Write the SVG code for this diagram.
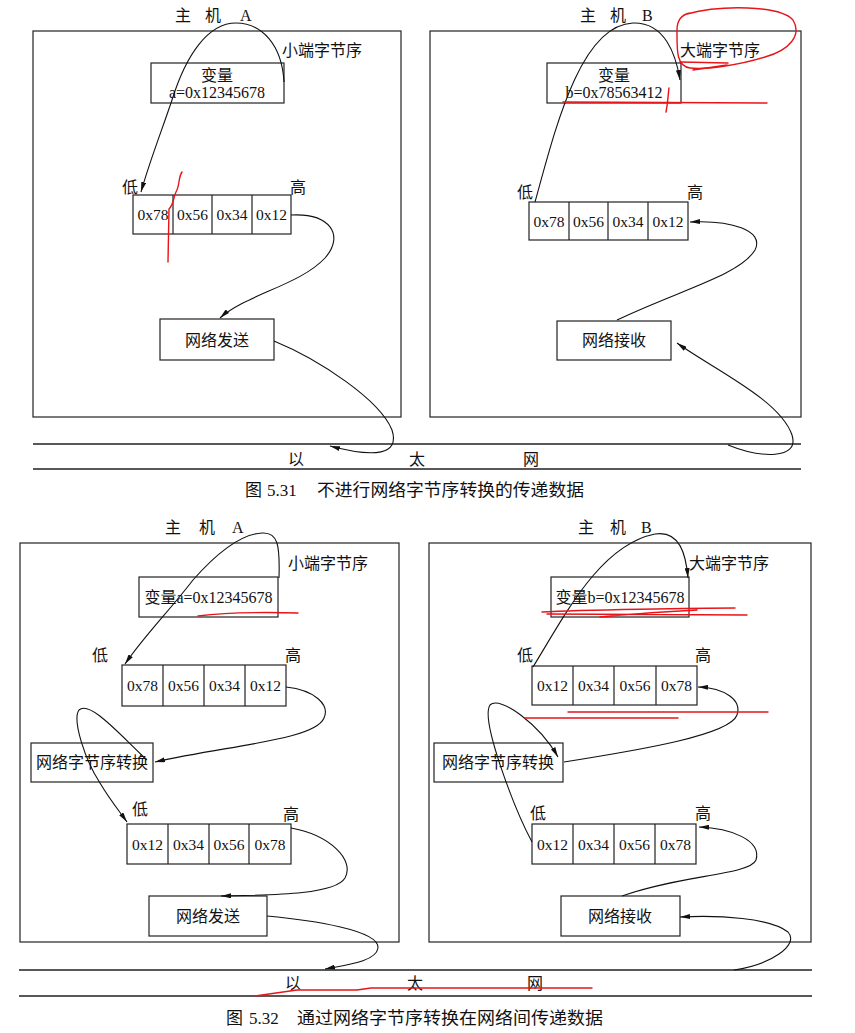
<svg xmlns="http://www.w3.org/2000/svg" width="855" height="1033" viewBox="0 0 855 1033">
<style>
text{font-family:"Liberation Serif","Noto Sans CJK SC",serif;font-size:16px;fill:#111}
.c{text-anchor:middle}
.cell{font-size:15.5px;text-anchor:middle}
.cap{font-size:17px}
.frame,.box{fill:none;stroke:#222;stroke-width:1.2}
.net{stroke:#222;stroke-width:1.4}
.arr{fill:none;stroke:#111;stroke-width:1.1;marker-end:url(#ah)}
.red{fill:none;stroke:#e8141a;stroke-width:1.4;stroke-linecap:round}
</style>
<defs>
<marker id="ah" viewBox="0 0 10 5" markerWidth="10" markerHeight="5" refX="10" refY="2.5" orient="auto" markerUnits="userSpaceOnUse">
<path d="M0,0 L10,2.5 L0,5 z" fill="#111"/>
</marker>
</defs>
<rect width="855" height="1033" fill="#fff"/>

<!-- Figure 5.31 -->
<g id="hostA1">
<rect class="frame" x="33" y="31" width="368" height="386"/>
<text y="21"><tspan x="175">主</tspan><tspan x="205">机</tspan><tspan x="240">A</tspan></text>
<text x="282" y="56">小端字节序</text>
</g>
<g id="varA1">
<rect class="box" x="151" y="63" width="133" height="40"/>
<text class="c" x="217" y="81">变量</text>
<text class="c" x="217" y="98">a=0x12345678</text>
</g>
<g id="arrA1">
<text x="122" y="193">低</text><text x="290" y="193">高</text>
<rect class="box" x="133" y="195" width="158" height="39"/>
<path class="box" d="M173,195V234M212,195V234M252,195V234"/>
<text class="cell" x="153" y="220">0x78</text><text class="cell" x="192.5" y="220">0x56</text><text class="cell" x="232" y="220">0x34</text><text class="cell" x="271.5" y="220">0x12</text>
</g>
<g id="sendA1">
<rect class="box" x="160" y="319" width="114" height="41"/>
<text class="c" x="217" y="346">网络发送</text>
</g>
<g id="hostB1">
<rect class="frame" x="430" y="31" width="371" height="386"/>
<text y="21"><tspan x="580">主</tspan><tspan x="610">机</tspan><tspan x="642">B</tspan></text>
<text x="680" y="56">大端字节序</text>
</g>
<g id="varB1">
<rect class="box" x="547" y="63" width="134" height="40"/>
<text class="c" x="614" y="81">变量</text>
<text class="c" x="614" y="98">b=0x78563412</text>
</g>
<g id="arrB1">
<text x="517" y="198">低</text><text x="687" y="198">高</text>
<rect class="box" x="529" y="202" width="159" height="38"/>
<path class="box" d="M569,202V240M608,202V240M648,202V240"/>
<text class="cell" x="549" y="227">0x78</text><text class="cell" x="588.5" y="227">0x56</text><text class="cell" x="628" y="227">0x34</text><text class="cell" x="668" y="227">0x12</text>
</g>
<g id="recvB1">
<rect class="box" x="557" y="321" width="114" height="39"/>
<text class="c" x="614" y="346">网络接收</text>
</g>
<g id="ether1">
<path class="net" d="M33,444H801M33,469H801"/>
<text x="288" y="465">以</text><text x="409" y="465">太</text><text x="523" y="465">网</text>
</g>
<g id="caption1">
<text class="cap" y="496"><tspan x="245">图</tspan><tspan x="267">5.31</tspan><tspan x="317" textLength="267" lengthAdjust="spacingAndGlyphs">不进行网络字节序转换的传递数据</tspan></text>
</g>

<!-- Figure 5.32 -->
<g id="hostA2">
<rect class="frame" x="20" y="543" width="379" height="399"/>
<text y="533"><tspan x="165">主</tspan><tspan x="199">机</tspan><tspan x="232">A</tspan></text>
<text x="288" y="569">小端字节序</text>
</g>
<g id="varA2">
<rect class="box" x="139" y="577" width="139" height="40"/>
<text class="c" x="208.5" y="603">变量a=0x12345678</text>
</g>
<g id="arrA2a">
<text x="92" y="661">低</text><text x="285" y="661">高</text>
<rect class="box" x="122" y="665" width="164" height="41"/>
<path class="box" d="M163,665V706M204,665V706M245,665V706"/>
<text class="cell" x="142.5" y="691">0x78</text><text class="cell" x="183.5" y="691">0x56</text><text class="cell" x="224.5" y="691">0x34</text><text class="cell" x="265.5" y="691">0x12</text>
</g>
<g id="convA2">
<rect class="box" x="31" y="743" width="122" height="39"/>
<text class="c" x="92" y="768">网络字节序转换</text>
</g>
<g id="arrA2b">
<text x="132" y="815">低</text><text x="283" y="820">高</text>
<rect class="box" x="127" y="824" width="164" height="40"/>
<path class="box" d="M168,824V864M209,824V864M249,824V864"/>
<text class="cell" x="147.5" y="850">0x12</text><text class="cell" x="188.5" y="850">0x34</text><text class="cell" x="229" y="850">0x56</text><text class="cell" x="270" y="850">0x78</text>
</g>
<g id="sendA2">
<rect class="box" x="149" y="896" width="118" height="40"/>
<text class="c" x="208" y="922">网络发送</text>
</g>
<g id="hostB2">
<rect class="frame" x="429" y="543" width="382" height="399"/>
<text y="533"><tspan x="578">主</tspan><tspan x="610">机</tspan><tspan x="641">B</tspan></text>
<text x="689" y="569">大端字节序</text>
</g>
<g id="varB2">
<rect class="box" x="551" y="577" width="138" height="40"/>
<text class="c" x="620" y="603">变量b=0x12345678</text>
</g>
<g id="arrB2a">
<text x="517" y="661">低</text><text x="695" y="661">高</text>
<rect class="box" x="532" y="666" width="165" height="39"/>
<path class="box" d="M573,666V705M614,666V705M656,666V705"/>
<text class="cell" x="552.5" y="691">0x12</text><text class="cell" x="593.5" y="691">0x34</text><text class="cell" x="635" y="691">0x56</text><text class="cell" x="676.5" y="691">0x78</text>
</g>
<g id="convB2">
<rect class="box" x="434" y="743" width="129" height="39"/>
<text class="c" x="498" y="768">网络字节序转换</text>
</g>
<g id="arrB2b">
<text x="530" y="819">低</text><text x="695" y="819">高</text>
<rect class="box" x="532" y="824" width="164" height="40"/>
<path class="box" d="M573,824V864M614,824V864M655,824V864"/>
<text class="cell" x="552.5" y="850">0x12</text><text class="cell" x="593.5" y="850">0x34</text><text class="cell" x="634.5" y="850">0x56</text><text class="cell" x="675.5" y="850">0x78</text>
</g>
<g id="recvB2">
<rect class="box" x="561" y="896" width="119" height="40"/>
<text class="c" x="620" y="922">网络接收</text>
</g>
<g id="ether2">
<path class="net" d="M19,970H812M19,996H812"/>
<text x="285" y="989">以</text><text x="407" y="989">太</text><text x="527" y="989">网</text>
</g>
<g id="caption2">
<text class="cap" y="1024"><tspan x="226">图</tspan><tspan x="249">5.32</tspan><tspan x="297" textLength="306" lengthAdjust="spacingAndGlyphs">通过网络字节序转换在网络间传递数据</tspan></text>
</g>

<g id="connectors">
<path class="arr" d="M284,82 C282,45 262,23 236,23 C208,23 186,55 172,100 C162,130 150,160 141,192"/>
<path class="arr" d="M291,215 C330,213 345,235 325,258 C300,285 245,295 220,318"/>
<path class="arr" d="M274,341 C320,360 380,400 392,430 C400,455 375,458 330,446"/>
<path class="arr" d="M535,202 C555,130 580,25 633,23 C665,22 676,55 680,80"/>
<path class="arr" d="M617,320 C680,290 740,275 755,250 C765,230 730,220 690,222"/>
<path class="arr" d="M728,445 C760,458 800,460 792,435 C780,400 715,370 677,343"/>
<path class="arr" d="M279,578 C280,545 278,532 262,533 C240,534 215,555 193,580 C170,610 145,635 125,664"/>
<path class="arr" d="M286,687 C315,690 330,705 324,718 C315,740 230,745 155,762"/>
<path class="arr" d="M147,760 C120,735 90,700 79,710 C72,720 85,760 100,783 C110,800 120,812 127,822"/>
<path class="arr" d="M291,828 C330,835 355,860 345,878 C335,895 270,895 221,896"/>
<path class="arr" d="M267,916 C310,920 380,930 378,948 C376,962 345,965 325,969"/>
<path class="arr" d="M533,667 C565,615 600,545 655,534 C680,530 686,555 688,578"/>
<path class="arr" d="M564,762 C640,750 730,735 737,715 C742,700 725,688 698,687"/>
<path class="arr" d="M532,842 C515,810 480,720 490,705 C500,695 540,725 558,757"/>
<path class="arr" d="M622,896 C680,875 750,875 756,860 C762,840 730,828 699,827"/>
<path class="arr" d="M734,970 C770,965 800,945 788,932 C770,918 720,915 680,917"/>
</g>

<g id="annotations">
<path class="red" d="M182,172 C178,178 180,185 176,192 C173,198 174,204 169,209 L168,262"/>
<path class="red" d="M687,14 C720,5 780,5 793,20 C802,35 790,50 765,57 C740,65 705,70 690,68 C676,66 677,50 677,30 C677,22 680,15 690,13"/>
<path class="red" d="M680,62 L728,63 M693,70 L727,65"/>
<path class="red" d="M563,102 L767,103 M669,88 C668,95 668,102 666,112"/>
<path class="red" d="M198,616 C230,612 260,612 298,613"/>
<path class="red" d="M542,612 C580,610 700,608 735,608 M547,614 L747,615 M600,617 C640,613 680,611 697,610"/>
<path class="red" d="M568,712 L768,712 M525,718 L678,718"/>
<path class="red" d="M255,996 L297,990 L357,990 L371,988 L592,988"/>
</g>
</svg>
